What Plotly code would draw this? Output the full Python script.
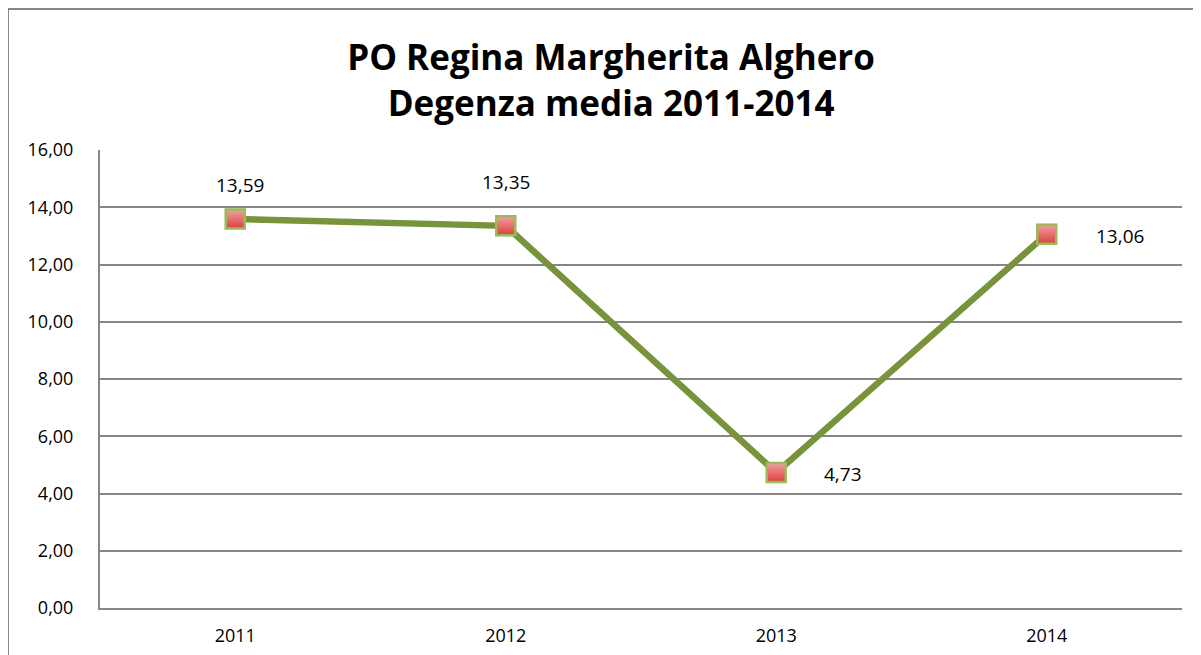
import plotly.graph_objects as go

years = ["2011", "2012", "2013", "2014"]
degenza = [13.59, 13.35, 4.73, 13.06]
labels = ["13,59", "13,35", "4,73", "13,06"]
y_ticks = [0, 2, 4, 6, 8, 10, 12, 14, 16]
y_ticklabels = ["0,00", "2,00", "4,00", "6,00", "8,00", "10,00", "12,00", "14,00", "16,00"]

FONT = "Open Sans"
W, H = 1193, 647
L, R, T, B = 92, 19, 142, 47
PW, PH = W - L - R, H - T - B

fig = go.Figure()
# shadow under markers
fig.add_trace(go.Scatter(
    x=years, y=degenza, mode="markers",
    marker=dict(symbol="square", size=21, color="rgba(0,0,0,0.15)", line=dict(width=0)),
    hoverinfo="skip", showlegend=False,
))
fig.add_trace(go.Scatter(
    x=years, y=degenza, mode="lines+markers",
    line=dict(color="#77933C", width=6.5),
    marker=dict(symbol="square", size=19, color="#F3A0A0",
                gradient=dict(type="vertical", color="#D9403F"),
                line=dict(color="#9BBB59", width=2.5)),
    showlegend=False,
))

label_xshift = [5, 0, 67, 73]
label_yshift = [34, 44, -1, -2]
for i, (v, t, xs, ys) in enumerate(zip(degenza, labels, label_xshift, label_yshift)):
    fig.add_annotation(x=i, y=v, text=t, showarrow=False, xshift=xs, yshift=ys,
                       font=dict(family=FONT, size=19, color="#000000"),
                       bgcolor="white", borderpad=2)

# outer chart border
fig.add_shape(type="rect", xref="paper", yref="paper",
              x0=(0 - L) / PW, x1=(W + 20 - L) / PW,
              y0=-(B + 20) / PH, y1=1 + (T - 1) / PH,
              line=dict(color="#868686", width=2), fillcolor="rgba(0,0,0,0)", layer="below")

fig.update_layout(
    width=W, height=H,
    margin=dict(l=L, r=R, t=T, b=B, autoexpand=False),
    paper_bgcolor="white", plot_bgcolor="white",
    title=dict(text="<b>PO Regina Margherita Alghero<br>Degenza media 2011-2014</b>",
               x=0.5055, xanchor="center", y=0.904, yanchor="middle",
               font=dict(family=FONT, size=35, color="#000000")),
    xaxis=dict(type="category", range=[-0.5, 3.5], showgrid=False, showline=True,
               linecolor="#868686", linewidth=2, ticks="", ticklabelstandoff=10, automargin=False,
               tickfont=dict(family=FONT, size=18, color="#000000"), zeroline=False),
    yaxis=dict(range=[0, 16], tickvals=y_ticks, ticktext=y_ticklabels, showgrid=True,
               gridcolor="#868686", gridwidth=1.5, showline=True, linecolor="#868686", linewidth=2,
               ticks="", ticklabelstandoff=21, automargin=False,
               tickfont=dict(family=FONT, size=18, color="#000000"), zeroline=False),
)

fig.write_html("out.html")
